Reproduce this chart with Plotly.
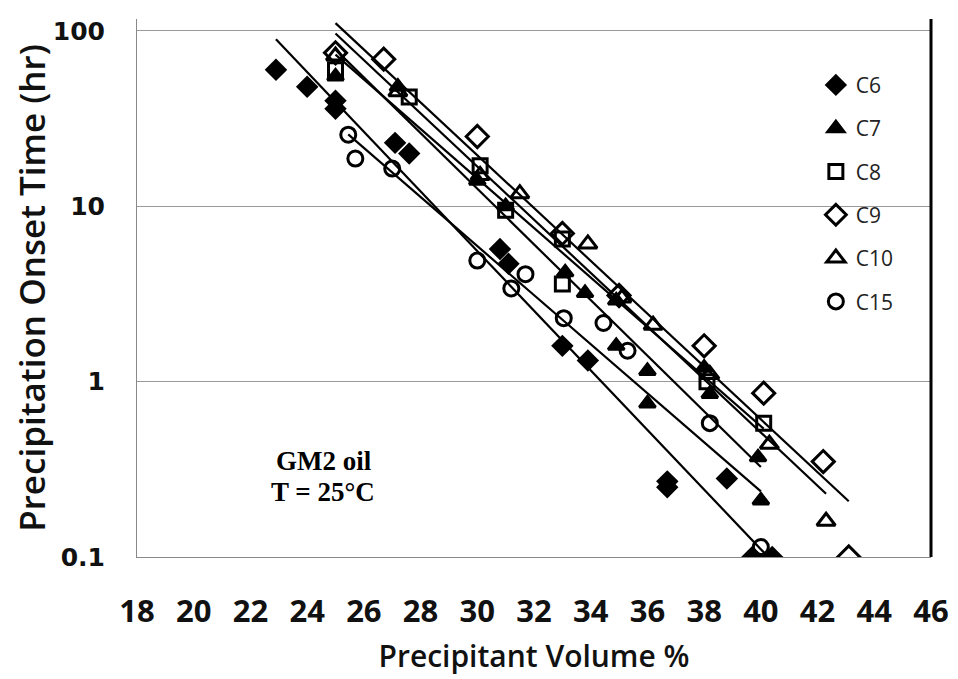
import numpy as np
import plotly.graph_objects as go

# precipitant volume % and onset time (hr)
c6_x = [22.9, 24.0, 25.0, 25.0, 27.1, 27.6, 30.8, 31.1, 33.0, 33.9, 36.7, 36.7, 38.8, 39.7, 40.4]
c6_y = [60, 48, 40, 36, 23, 20, 5.7, 4.7, 1.6, 1.32, 0.27, 0.25, 0.28, 0.1, 0.1]

c7_x = [25.0, 27.2, 30.0, 31.0, 33.1, 33.8, 34.9, 34.9, 36.0, 36.0, 38.0, 38.2, 39.9, 40.0]
c7_y = [55, 48, 14, 10, 4.2, 3.2, 2.9, 1.6, 1.15, 0.75, 1.2, 0.85, 0.37, 0.21]

c8_x = [25.0, 27.6, 30.1, 31.0, 33.0, 33.0, 38.1, 40.1]
c8_y = [60, 42, 17, 9.5, 6.5, 3.6, 1.0, 0.58]

c9_x = [25.0, 26.7, 30.0, 33.0, 35.0, 38.0, 40.1, 42.2, 43.1]
c9_y = [75, 69, 25, 7.0, 3.1, 1.6, 0.86, 0.35, 0.1]

c10_x = [25.0, 27.2, 30.1, 31.5, 33.9, 35.1, 36.2, 38.2, 40.3, 42.3]
c10_y = [72, 45, 15, 11.8, 6.1, 3.0, 2.1, 1.1, 0.44, 0.16]

c15_x = [25.45, 25.7, 27.0, 30.0, 31.2, 31.7, 33.05, 34.45, 35.3, 38.2, 40.0]
c15_y = [25.6, 18.7, 16.4, 4.9, 3.4, 4.1, 2.3, 2.16, 1.5, 0.58, 0.114]

x_ticks = list(range(18, 47, 2))
y_ticks = [0.1, 1, 10, 100]
y_labels = ["0.1", "1", "10", "100"]

series = [
    ("C6", c6_x, c6_y, "diamond", 14),
    ("C7", c7_x, c7_y, "triangle-up", 14),
    ("C8", c8_x, c8_y, "square-open", 14),
    ("C9", c9_x, c9_y, "diamond-open", 17),
    ("C10", c10_x, c10_y, "triangle-up-open", 16),
    ("C15", c15_x, c15_y, "circle-open", 15),
]

fig = go.Figure()

# exponential trendlines (straight on log axis), like Excel
for name, xs, ys, sym, sz in series:
    k, b = np.polyfit(xs, np.log10(ys), 1)
    lx = np.array([min(xs), max(xs)])
    fig.add_trace(go.Scatter(x=lx, y=10 ** (k * lx + b), mode="lines",
                             line=dict(color="black", width=2.2),
                             showlegend=False, hoverinfo="skip"))

for name, xs, ys, sym, sz in series:
    fig.add_trace(go.Scatter(x=xs, y=ys, mode="markers", name=name, legendgroup=name,
                             marker=dict(symbol=sym, size=sz, color="black",
                                         line=dict(color="black", width=3))))

note_font = dict(family="Liberation Serif", size=27, color="black", weight="bold")
fig.add_annotation(x=0.172, y=0.178, xref="paper", yref="paper", xanchor="left", yanchor="middle",
                   text="GM2 oil", showarrow=False, font=note_font)
fig.add_annotation(x=0.166, y=0.12, xref="paper", yref="paper", xanchor="left", yanchor="middle",
                   text="T = 25°C", showarrow=False, font=note_font)

# black frame edge on the right
fig.add_shape(type="line", xref="paper", yref="paper", x0=1, x1=1, y0=0, y1=1,
              line=dict(color="black", width=3))

# page body adds 8px offset, so the figure is drawn 8px smaller
fig.update_layout(
    width=950, height=671,
    margin=dict(l=129, r=21, t=9, b=122),
    plot_bgcolor="white", paper_bgcolor="white",
    showlegend=True,
    legend=dict(x=0.855, y=0.915, xanchor="left", yanchor="top",
                bgcolor="rgba(0,0,0,0)", tracegroupgap=13, itemwidth=30,
                font=dict(family="Liberation Sans Narrow, Open Sans", size=21, color="#222")),
)
fig.update_xaxes(range=[18, 46], tickvals=x_ticks, showgrid=False,
                 showline=True, linecolor="#888", linewidth=1, zeroline=False,
                 ticks="", ticklabelstandoff=27,
                 tickfont=dict(family="Open Sans", size=31, color="#111", weight="bold"),
                 title=dict(text="Precipitant Volume %", standoff=15,
                            font=dict(family="Open Sans", size=30, color="#111", weight=600)))
fig.update_yaxes(type="log", range=[-1, 2.068], tickvals=y_ticks, ticktext=y_labels,
                 showgrid=True, gridcolor="#999", gridwidth=1,
                 showline=True, linecolor="#888", linewidth=1, zeroline=False,
                 ticks="", ticklabelstandoff=26,
                 tickfont=dict(family="DejaVu Sans", size=25, color="#111", weight="bold"),
                 title=dict(text="Precipitation Onset Time (hr)", standoff=5,
                            font=dict(family="Open Sans", size=35, color="#111", weight=600)))

fig.write_html("out.html")
